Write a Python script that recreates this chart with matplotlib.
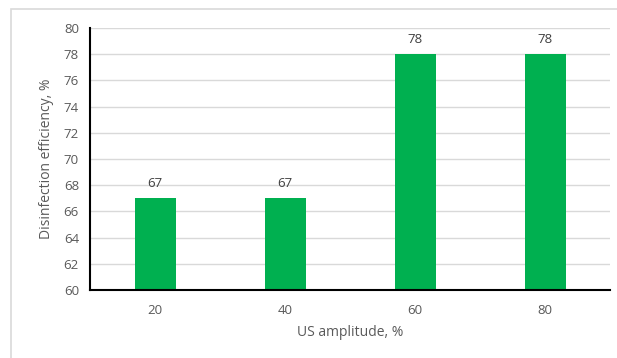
import matplotlib
matplotlib.use("Agg")
import matplotlib.pyplot as plt
from matplotlib.patches import Rectangle

# US amplitude vs disinfection efficiency
amplitudes = ["20", "40", "60", "80"]
efficiency = [67, 67, 78, 78]

plt.rcParams['font.family'] = ['Open Sans', 'DejaVu Sans']

fig = plt.figure(figsize=(6.17, 3.58), dpi=100)
ax = fig.add_axes([0.1459, 0.19, 0.843, 0.7318])

# chart frame
fig.patches.append(Rectangle((11 / 617, -0.05), 1.0, 1 - 9 / 358 + 0.05,
                             transform=fig.transFigure, fill=False,
                             edgecolor="#d9d9d9", linewidth=1.2))

x = range(len(amplitudes))
bars = ax.bar(x, efficiency, width=0.315, color="#00b050", zorder=3)

for xi, v in zip(x, efficiency):
    ax.text(xi, v + 0.6, str(v), ha="center", va="bottom",
            fontsize=9.5, color="#404040")

ax.set_xlim(-0.5, len(amplitudes) - 0.5)
ax.set_ylim(60, 80)
ax.set_yticks(range(60, 81, 2))
ax.set_xticks(list(x))
ax.set_xticklabels(amplitudes)
ax.tick_params(length=0, labelsize=9.5, labelcolor="#595959")
ax.tick_params(axis="x", pad=10)
ax.tick_params(axis="y", pad=8)
ax.grid(axis="y", color="#d9d9d9", linewidth=1, zorder=0)

for side in ["top", "right"]:
    ax.spines[side].set_visible(False)
for side in ["left", "bottom"]:
    ax.spines[side].set_color("black")
    ax.spines[side].set_linewidth(1.5)
    ax.spines[side].set_zorder(4)

ax.set_xlabel("US amplitude, %", fontsize=10, color="#595959", labelpad=6)
ax.set_ylabel("Disinfection efficiency, %", fontsize=10, color="#595959", labelpad=7)

fig.savefig("out.png", dpi=100)
